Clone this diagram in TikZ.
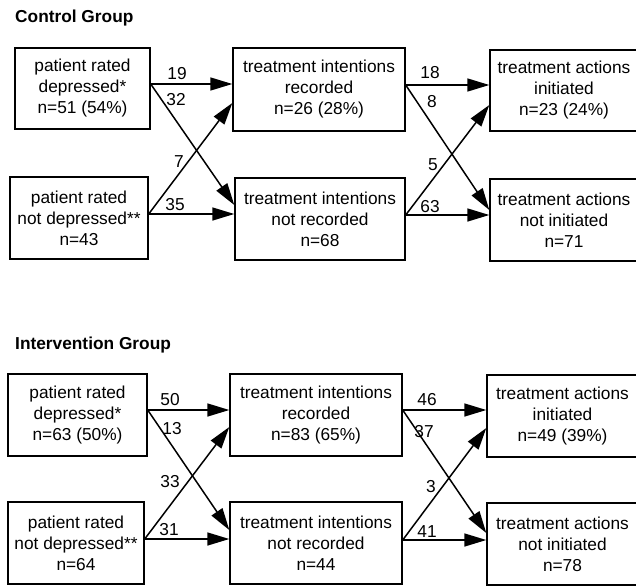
\documentclass[tikz,border=0pt]{standalone}
\usepackage{fontspec}
\setmainfont{Liberation Sans}
\usetikzlibrary{arrows.meta}
\begin{document}
\begin{tikzpicture}[x=1pt,y=-1pt,
  box/.style={draw, line width=1.4pt, inner sep=0pt, align=center, font=\fontsize{17.3}{21}\selectfont},
  num/.style={inner sep=0pt, font=\fontsize{17.3}{21}\selectfont},
  arr/.style={line width=1.5pt, -{Triangle[length=22pt,width=13pt]}},
  ttl/.style={anchor=west, inner sep=0pt, font=\bfseries\fontsize{17.3}{21}\selectfont}]
\useasboundingbox (0,0) rectangle (636,586);

% ---------- Control group ----------
\node[ttl] (T1) at (15,18) {Control Group};
\node[box, minimum width=135pt, minimum height=81pt] (A1) at (82.5,88.5) {patient rated\\depressed*\\n=51 (54\%)};
\node[box, minimum width=172pt, minimum height=83pt] (B1) at (319,89.5) {treatment intentions\\recorded\\n=26 (28\%)};
\node[box, minimum width=148pt, minimum height=81pt] (C1) at (564,90.5) {treatment actions\\initiated\\n=23 (24\%)};
\node[box, minimum width=138pt, minimum height=82pt] (A2) at (79,218) {patient rated\\not depressed**\\n=43};
\node[box, minimum width=170pt, minimum height=82pt] (B2) at (320,219) {treatment intentions\\not recorded\\n=68};
\node[box, minimum width=148pt, minimum height=82pt] (C2) at (564,220) {treatment actions\\not initiated\\n=71};

\draw[arr] ([yshift=4.5pt]A1.east) -- ([yshift=5.5pt]B1.west);
\draw[arr] ([yshift=4.5pt]A1.east) -- ([yshift=14pt]B2.west);
\draw[arr] ([yshift=4pt]A2.east) -- ([yshift=-13.5pt]B1.west);
\draw[arr] ([yshift=4pt]A2.east) -- ([yshift=5pt]B2.west);
\draw[arr] ([yshift=4.5pt]B1.east) -- ([yshift=5.5pt]C1.west);
\draw[arr] ([yshift=4.5pt]B1.east) -- ([yshift=10pt]C2.west);
\draw[arr] ([yshift=4pt]B2.east) -- ([yshift=-14.5pt]C1.west);
\draw[arr] ([yshift=4pt]B2.east) -- ([yshift=5pt]C2.west);

\node[num] (n19) at (177,74) {19};
\node[num] (n32) at (176,100) {32};
\node[num] (n7) at (179,162) {7};
\node[num] (n35) at (175,205) {35};
\node[num] (n18) at (430,73) {18};
\node[num] (n8) at (432,102) {8};
\node[num] (n5) at (433,165) {5};
\node[num] (n63) at (430,207) {63};

% ---------- Intervention group ----------
\node[ttl] (T2) at (15,345) {Intervention Group};
\node[box, minimum width=139pt, minimum height=82pt] (A3) at (77.5,415) {patient rated\\depressed*\\n=63 (50\%)};
\node[box, minimum width=172pt, minimum height=82pt] (B3) at (316,415) {treatment intentions\\recorded\\n=83 (65\%)};
\node[box, minimum width=151pt, minimum height=82pt] (C3) at (562.5,416) {treatment actions\\initiated\\n=49 (39\%)};
\node[box, minimum width=136pt, minimum height=82pt] (A4) at (76,543) {patient rated\\not depressed**\\n=64};
\node[box, minimum width=172pt, minimum height=82pt] (B4) at (316,543) {treatment intentions\\not recorded\\n=44};
\node[box, minimum width=151pt, minimum height=82pt] (C4) at (562.5,544) {treatment actions\\not initiated\\n=78};

\draw[arr] ([yshift=5pt]A3.east) -- ([yshift=5pt]B3.west);
\draw[arr] ([yshift=5pt]A3.east) -- ([yshift=13pt]B4.west);
\draw[arr] ([yshift=4pt]A4.east) -- ([yshift=-12pt]B3.west);
\draw[arr] ([yshift=4pt]A4.east) -- ([yshift=4pt]B4.west);
\draw[arr] ([yshift=5pt]B3.east) -- ([yshift=6pt]C3.west);
\draw[arr] ([yshift=5pt]B3.east) -- ([yshift=11pt]C4.west);
\draw[arr] ([yshift=3pt]B4.east) -- ([yshift=-12pt]C3.west);
\draw[arr] ([yshift=3pt]B4.east) -- ([yshift=4pt]C4.west);

\node[num] (n50) at (170,400) {50};
\node[num] (n13) at (172,429) {13};
\node[num] (n33) at (170,482) {33};
\node[num] (n31) at (169,530) {31};
\node[num] (n46) at (427,400) {46};
\node[num] (n37) at (424,432) {37};
\node[num] (n3) at (431,487) {3};
\node[num] (n41) at (427,532) {41};
\end{tikzpicture}
\end{document}
